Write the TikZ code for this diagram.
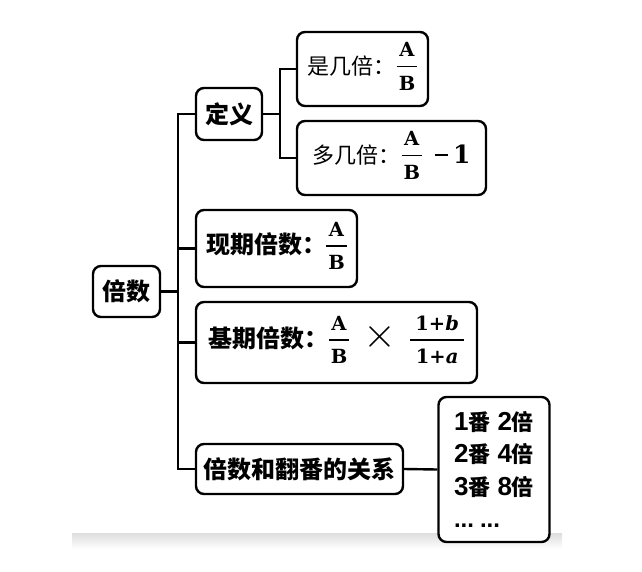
\documentclass[tikz,border=0pt]{standalone}
\usepackage{fontspec}
\setmainfont{Liberation Serif}
\newfontfamily\cjk{Noto Sans CJK SC}
\newfontfamily\fracfont{DejaVu Serif}
\newfontfamily\numfont{Liberation Sans}

% stacked fraction with a bar centred between numerator and denominator
\newcommand\fr[2]{{\fracfont\bfseries\fontsize{19.5}{23}\selectfont
  \setlength\arrayrulewidth{1.4pt}%
  \begin{tabular}{@{\hspace{2pt}}c@{\hspace{2pt}}}
    \rule[-9pt]{0pt}{9pt}#1\\\hline
    \rule{0pt}{23pt}#2
  \end{tabular}}}
% thin minus sign drawn as a rule
\newcommand\minussign{\rule[7.5pt]{13pt}{1.3pt}}
% one row of the doubling table
\newcommand\fanrow[2]{{\numfont\fontsize{26}{32.5}\selectfont #1}番\hspace{7pt}{\numfont\fontsize{26}{32.5}\selectfont #2}倍}

\begin{document}
\begin{tikzpicture}[x=1pt,y=-1pt,
  box/.style={draw=black, line width=2.4pt, rounded corners=8pt, fill=white, inner sep=0pt},
  boldtxt/.style={font={\cjk\bfseries\fontsize{24}{27}\selectfont}},
  plaintxt/.style={font={\cjk\fontsize{22}{26}\selectfont}},
  link/.style={line width=2.4pt}]
\useasboundingbox (0,0) rectangle (642,571);
\fill[white] (0,0) rectangle (642,571);
% soft grey strip near the bottom
\shade[top color=black!13, bottom color=white] (72,533) rectangle (562,549);

% junction columns
\coordinate (trunk) at (178,0);
\coordinate (fork) at (280,0);

% boxes
\node[box, boldtxt, minimum width=67pt, minimum height=51pt] (root) at (126.5,291.5) {倍数};
\node[box, boldtxt, minimum width=66pt, minimum height=52pt] (dingyi) at (229,114) {定义};
\node[box, plaintxt, minimum width=131pt, minimum height=74pt] (shi) at (362.5,69)
  {是几倍：\hspace{1pt}\fr{A}{B}};
\node[box, plaintxt, minimum width=189pt, minimum height=74pt] (duo) at (391.5,158)
  {多几倍：\hspace{1pt}\fr{A}{B}\hspace{13pt}\minussign\hspace{5pt}{\fracfont\bfseries\fontsize{25}{25}\selectfont 1}};
\node[box, boldtxt, minimum width=161pt, minimum height=77pt] (xianqi) at (276.5,248.5)
  {现期倍数：\fr{A}{B}};
\node[box, boldtxt, minimum width=281pt, minimum height=81pt] (jiqi) at (336.5,342.5)
  {基期倍数：\fr{A}{B}\hspace{14pt}\scalebox{1.7}{$\times$}\hspace{14pt}\fr{\,1+\textit{b}\,}{\,1+\textit{a}\,}};
\node[box, boldtxt, minimum width=207pt, minimum height=50pt] (guanxi) at (299.5,469)
  {倍数和翻番的关系};
\node[box, align=left, minimum width=111pt, minimum height=145pt,
  font={\cjk\bfseries\fontsize{22}{32.5}\selectfont}] (list) at (494,469.5)
  {\fanrow{1}{2}\\\fanrow{2}{4}\\\fanrow{3}{8}\\{\numfont\fontsize{24}{32.5}\selectfont ...\hspace{6pt}...}};

% connectors
\draw[link] (root.east) -- (root.east -| trunk);
\draw[link] (dingyi.west) -| (trunk |- guanxi.west) -- (guanxi.west);
\draw[link] (xianqi.west) -- (xianqi.west -| trunk);
\draw[link] (jiqi.west) -- (jiqi.west -| trunk);
\draw[link] (dingyi.east) -- (dingyi.east -| fork);
\draw[link] (shi.west) -| (fork |- duo.west) -- (duo.west);
\draw[link] (guanxi.east) -- (list.west);
\end{tikzpicture}
\end{document}
